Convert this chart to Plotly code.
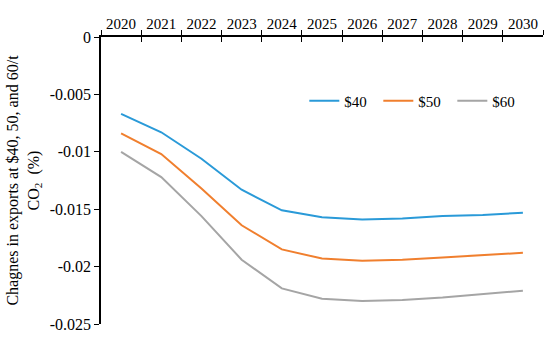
import plotly.graph_objects as go

years = ["2020", "2021", "2022", "2023", "2024", "2025", "2026", "2027", "2028", "2029", "2030"]
s40 = [-0.0067, -0.0083, -0.0106, -0.0133, -0.0151, -0.0157, -0.0159, -0.0158, -0.0156, -0.0155, -0.0153]
s50 = [-0.0084, -0.0102, -0.0132, -0.0164, -0.0185, -0.0193, -0.0195, -0.0194, -0.0192, -0.0190, -0.0188]
s60 = [-0.0100, -0.0122, -0.0156, -0.0194, -0.0219, -0.0228, -0.0230, -0.0229, -0.0227, -0.0224, -0.0221]
ytickvals = [0, -0.005, -0.01, -0.015, -0.02, -0.025]
yticktext = ["0", "-0.005", "-0.01", "-0.015", "-0.02", "-0.025"]

ff = "Times New Roman"
fnt = dict(family=ff, size=15, color="black")

fig = go.Figure()
fig.add_trace(go.Scatter(x=years, y=s40, mode="lines", name="$40", line=dict(color="#2A9AD8", width=2)))
fig.add_trace(go.Scatter(x=years, y=s50, mode="lines", name="$50", line=dict(color="#F07F2E", width=2)))
fig.add_trace(go.Scatter(x=years, y=s60, mode="lines", name="$60", line=dict(color="#A5A5A5", width=2)))
# invisible helper trace for the overlay axis (inside tick half)
fig.add_trace(go.Scatter(x=years, y=s40, mode="lines", line=dict(width=0, color="rgba(0,0,0,0)"),
                         showlegend=False, hoverinfo="skip", xaxis="x2"))

fig.update_layout(
    width=550, height=338,
    margin=dict(l=101, r=7, t=37, b=14),
    paper_bgcolor="white", plot_bgcolor="white",
    font=fnt,
    showlegend=True,
    legend=dict(orientation="h", x=0.46, y=0.777, xanchor="left", yanchor="middle",
                font=fnt, itemwidth=30, entrywidth=29, entrywidthmode="pixels",
                bgcolor="rgba(0,0,0,0)"),
    xaxis=dict(type="category", side="top", tickson="boundaries", ticks="outside", ticklen=5,
               tickcolor="black", showline=True, linecolor="black", linewidth=1.5,
               showgrid=False, zeroline=False, range=[-0.5, 10.5], tickangle=0,
               tickfont=fnt, anchor="y", automargin=False),
    xaxis2=dict(type="category", side="top", tickson="boundaries", ticks="inside", ticklen=5,
                tickcolor="black", showline=False, showgrid=False, zeroline=False,
                showticklabels=False, overlaying="x", range=[-0.5, 10.5], anchor="y",
                categoryarray=years, categoryorder="array", automargin=False),
    yaxis=dict(range=[-0.025, 0], tickvals=ytickvals, ticktext=yticktext, ticks="outside",
               ticklen=5, tickcolor="black", showline=True, linecolor="black", linewidth=1.5,
               showgrid=False, zeroline=False, tickfont=dict(family=ff, size=16, color="black"),
               automargin=False,
               title=dict(text="Chagnes in exports at $40, 50, and 60/t<br>CO<sub>2</sub>  (%)",
                          font=dict(family=ff, size=16, color="black"), standoff=6)),
)

fig.write_html("out.html", post_script="document.body.style.margin='0';",
               config={"displayModeBar": False})
